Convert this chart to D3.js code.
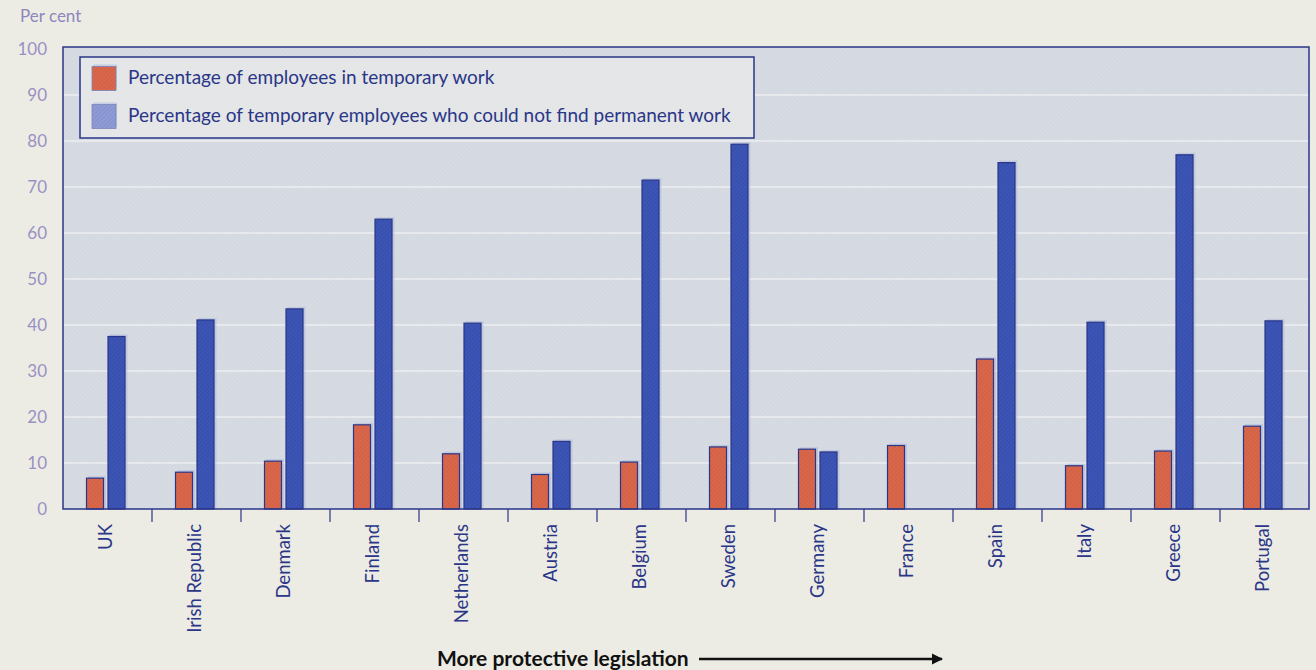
<!DOCTYPE html>
<html>
<head>
<meta charset="utf-8">
<script src="https://cdn.jsdelivr.net/npm/d3@7/dist/d3.min.js"></script>
<style>
  html, body { margin: 0; padding: 0; background: #edece4; }
  svg { display: block; }
</style>
</head>
<body>
<svg id="chart" width="1316" height="670"></svg>
<script>
// Temporary work by country, ordered by strength of employment protection
const countries = ["UK", "Irish Republic", "Denmark", "Finland", "Netherlands", "Austria",
  "Belgium", "Sweden", "Germany", "France", "Spain", "Italy", "Greece", "Portugal"];
const tempShare = [6.7, 8.0, 10.4, 18.3, 12.0, 7.5, 10.2, 13.5, 13.0, 13.8, 32.6, 9.4, 12.6, 18.0];
const involuntaryShare = [37.5, 41.1, 43.5, 63.0, 40.4, 14.7, 71.5, 79.3, 12.4, null, 75.3, 40.6, 77.0, 40.9];
const yTicks = [0, 10, 20, 30, 40, 50, 60, 70, 80, 90, 100];
const seriesNames = ["Percentage of employees in temporary work",
  "Percentage of temporary employees who could not find permanent work"];

const navy = "#2a3688";
const orange = "#d9674b";
const blue = "#3c55b6";
const font = "Lato, 'Open Sans', sans-serif";

const svg = d3.select("#chart");
const defs = svg.append("defs");

function hatch(id, base, line, size, w) {
  const p = defs.append("pattern").attr("id", id).attr("patternUnits", "userSpaceOnUse")
    .attr("width", size).attr("height", size).attr("patternTransform", "rotate(45)");
  p.append("rect").attr("width", size).attr("height", size).attr("fill", base);
  p.append("line").attr("x1", 0).attr("y1", 0).attr("x2", 0).attr("y2", size)
    .attr("stroke", line).attr("stroke-width", w);
}
hatch("bgHatch", "#d4d8e0", "#dde0e6", 3, 1);
hatch("orangeHatch", orange, "#c9573c", 3, 1);
hatch("blueHatch", blue, "#30479f", 3, 1);
hatch("blueLegend", "#8e9bd4", "#7987c8", 3, 1);
hatch("legendBg", "#e3e5e6", "#e9eaea", 3, 1);

const plot = { left: 63, right: 1309, top: 47, bottom: 509 };

const x = d3.scaleBand().domain(countries).range([plot.left, plot.right]).padding(0);
const y = d3.scaleLinear().domain([0, 100]).range([plot.bottom, plot.top + 2]);
const sub = d3.scaleBand().domain([0, 1]).range([-21, 19]).paddingInner(0.14);

// Plot background
svg.append("rect")
  .attr("x", plot.left).attr("y", plot.top)
  .attr("width", plot.right - plot.left).attr("height", plot.bottom - plot.top)
  .attr("fill", "url(#bgHatch)");

// Horizontal gridlines
svg.append("g").selectAll("line").data(yTicks.filter(t => t > 0 && t < 100)).join("line")
  .attr("x1", plot.left).attr("x2", plot.right)
  .attr("y1", d => y(d)).attr("y2", d => y(d))
  .attr("stroke", "#eceef1").attr("stroke-width", 1.6);

// Y tick labels
svg.append("g").selectAll("text").data(yTicks).join("text")
  .attr("x", 47).attr("y", d => y(d)).attr("dy", "0.35em")
  .attr("text-anchor", "end")
  .attr("font-family", font).attr("font-size", 17)
  .attr("fill", "#9a90c4")
  .text(d => d);

svg.append("text").attr("x", 20).attr("y", 22)
  .attr("font-family", font).attr("font-size", 17)
  .attr("fill", "#8e86bd").text("Per cent");

// Bars
const rows = countries.map((c, i) => ({ c, v: [tempShare[i], involuntaryShare[i]] }));
const fills = ["url(#orangeHatch)", "url(#blueHatch)"];
const barW = 17;
const groups = svg.append("g").selectAll("g").data(rows).join("g")
  .attr("transform", d => `translate(${x(d.c) + x.bandwidth() / 2},0)`);

groups.each(function (d) {
  const g = d3.select(this);
  d.v.forEach((v, k) => {
    if (v == null) return;
    const bx = sub(k);
    // soft halo
    g.append("rect")
      .attr("x", bx + 1.5).attr("y", y(v) - 2)
      .attr("width", barW + 1).attr("height", y(0) - y(v) + 2)
      .attr("fill", "#aab6dd").attr("opacity", 0.5);
    g.append("rect")
      .attr("x", bx).attr("y", y(v))
      .attr("width", barW).attr("height", y(0) - y(v))
      .attr("fill", fills[k])
      .attr("stroke", navy).attr("stroke-width", 1.2);
  });
});

// Frame
svg.append("rect")
  .attr("x", plot.left).attr("y", plot.top)
  .attr("width", plot.right - plot.left).attr("height", plot.bottom - plot.top)
  .attr("fill", "none").attr("stroke", navy).attr("stroke-width", 1.5);

// Category separators below the axis
svg.append("g").selectAll("line").data(countries.slice(1)).join("line")
  .attr("x1", d => x(d)).attr("x2", d => x(d))
  .attr("y1", plot.bottom).attr("y2", plot.bottom + 13)
  .attr("stroke", navy).attr("stroke-width", 1.2);

// Category labels
svg.append("g").selectAll("text").data(countries).join("text")
  .attr("transform", d => `translate(${x(d) + x.bandwidth() / 2 - 2},${plot.bottom + 15}) rotate(-90)`)
  .attr("text-anchor", "end").attr("dy", "0.35em")
  .attr("font-family", font).attr("font-size", 18.5)
  .attr("fill", navy)
  .text(d => d);

// Legend
const legend = svg.append("g");
legend.append("rect")
  .attr("x", 80).attr("y", 57).attr("width", 674).attr("height", 81)
  .attr("fill", "url(#legendBg)").attr("stroke", navy).attr("stroke-width", 1.5);
const legFills = ["url(#orangeHatch)", "url(#blueLegend)"];
seriesNames.forEach((name, k) => {
  const cy = 78 + k * 38;
  legend.append("rect").attr("x", 93).attr("y", cy - 13.5).attr("width", 24).attr("height", 24)
    .attr("fill", "#b3bde0").attr("opacity", 0.6);
  legend.append("rect").attr("x", 92).attr("y", cy - 11.5).attr("width", 24).attr("height", 24)
    .attr("fill", legFills[k]).attr("stroke", "#7c86b8").attr("stroke-width", 0.8);
  legend.append("text").attr("x", 128).attr("y", cy - 1).attr("dy", "0.35em")
    .attr("font-family", font).attr("font-size", 19)
    .attr("fill", navy).text(name);
});

// Bottom annotation with arrow
defs.append("marker").attr("id", "arrowHead").attr("viewBox", "0 0 10 10")
  .attr("refX", 9).attr("refY", 5).attr("markerWidth", 4.5).attr("markerHeight", 4.5)
  .attr("orient", "auto").attr("markerUnits", "strokeWidth")
  .append("path").attr("d", "M0,0 L10,5 L0,10 Z").attr("fill", "#111");
svg.append("text").attr("x", 437).attr("y", 666)
  .attr("font-family", font).attr("font-size", 21).attr("font-weight", 700)
  .attr("fill", "#111").text("More protective legislation");
svg.append("line").attr("x1", 699).attr("x2", 942).attr("y1", 659).attr("y2", 659)
  .attr("stroke", "#111").attr("stroke-width", 2.5).attr("marker-end", "url(#arrowHead)");
</script>
</body>
</html>
